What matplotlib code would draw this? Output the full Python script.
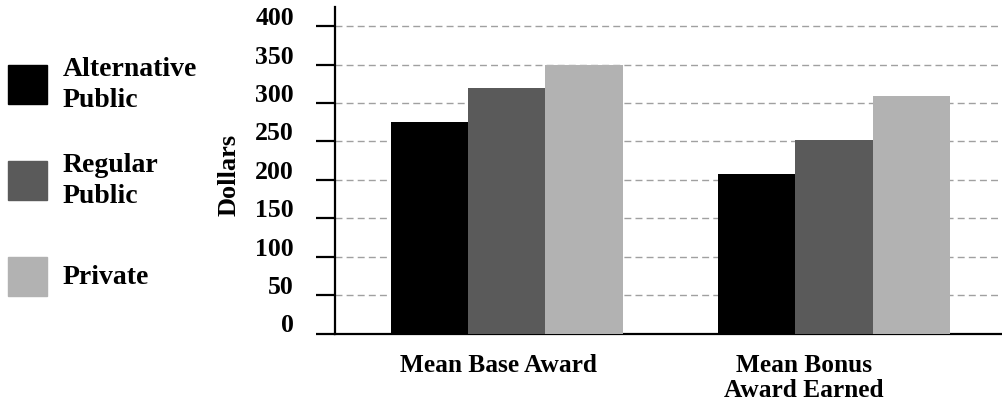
import matplotlib
matplotlib.use("Agg")
import matplotlib.pyplot as plt
from matplotlib.patches import Rectangle
from matplotlib.transforms import ScaledTranslation, blended_transform_factory
import numpy as np

categories = ["Mean Base Award", "Mean Bonus\nAward Earned"]
series_names = ["Alternative\nPublic", "Regular\nPublic", "Private"]
alternative_public = [275, 207]
regular_public = [320, 252]
private = [349, 309]
yticks = [0, 50, 100, 150, 200, 250, 300, 350, 400]

colors = ["#000000", "#5a5a5a", "#b2b2b2"]
values = [alternative_public, regular_public, private]

plt.rcParams['font.family'] = ['Liberation Serif', 'DejaVu Serif']
plt.rcParams['font.weight'] = 'bold'

W, H = 1002, 405
fig = plt.figure(figsize=(W / 100, H / 100), dpi=100)
ax = fig.add_axes([335 / W, 71.5 / H, (W - 335) / W, 326.5 / H])

x = np.arange(len(categories))
bw = 0.2363
for i, (vals, c) in enumerate(zip(values, colors)):
    ax.bar(x + (i - 1) * bw, vals, width=bw, color=c, zorder=3, linewidth=0)

ax.set_xlim(-0.525, 1.513)
ax.set_ylim(0, 425)
ax.set_yticks(yticks)
ax.set_yticklabels([str(v) for v in yticks], fontsize=18.5, fontweight='bold')
ax.yaxis.grid(True, color="#a0a0a0", linewidth=1.0, linestyle=(0, (5, 3)), zorder=0)
ax.set_axisbelow(True)
for s in ["top", "right"]:
    ax.spines[s].set_visible(False)
ax.spines["left"].set_linewidth(1.6)
ax.spines["bottom"].set_linewidth(1.6)
ax.tick_params(axis='y', length=13.7, width=1.6, pad=16, direction='out')
ax.tick_params(axis='x', length=0)
ax.set_xticks([])
for lab in ax.get_yticklabels():
    lab.set_verticalalignment('baseline')
    lab.set_transform(lab.get_transform() + ScaledTranslation(0, 0.01, fig.dpi_scale_trans))

# category labels
label_dx = [-8, -30]
trans = blended_transform_factory(ax.transData, ax.transAxes)
for xi, cat, dx in zip(x, categories, label_dx):
    ax.text(xi, 0, cat, transform=trans + ScaledTranslation(dx / 100, -0.20, fig.dpi_scale_trans),
            ha='center', va='top', fontsize=18.3, fontweight='bold', linespacing=1.12)

ax.set_ylabel("Dollars", fontsize=19, fontweight='bold')
ax.yaxis.label.set_va('center')
ax.yaxis.set_label_coords((229 - 335) / (W - 335), (333.5 - 175) / 326.5)

# legend
sq_tops = [65, 161, 257]
for name, c, top in zip(series_names, colors, sq_tops):
    fig.patches.append(Rectangle((8 / W, 1 - (top + 38.5) / H), 39 / W, 38.5 / H,
                                 transform=fig.transFigure, color=c, figure=fig))
    fig.text(63 / W, 1 - (top + 20) / H, name, ha='left', va='center',
             fontsize=20, fontweight='bold', linespacing=1.3)

fig.savefig("out.png", dpi=100)
